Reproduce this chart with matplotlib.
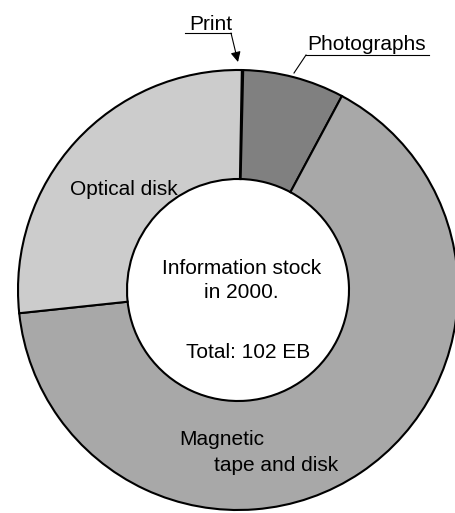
import matplotlib.pyplot as plt

# information stock in 2000, exabytes (total 102 EB)
categories = ["Print", "Photographs", "Magnetic tape and disk", "Optical disk"]
values = [0.1, 7.6, 66.8, 27.5]
colors = ["#606060", "#808080", "#a8a8a8", "#cccccc"]

plt.rcParams['font.family'] = ['Liberation Sans', 'DejaVu Sans']

fig = plt.figure(figsize=(4.56, 5.13), dpi=100)
ax = fig.add_axes([0, 0, 1, 1])

# axes in pixel units, y pointing down
cx, cy, r_out, r_in = 238, 290, 220, 111
ax.pie(values, colors=colors, startangle=-89, counterclock=True,
       center=(cx, cy), radius=r_out,
       wedgeprops=dict(width=r_out - r_in, edgecolor='black', linewidth=1.5))
ax.set_xlim(0, 456)
ax.set_ylim(513, 0)
ax.set_aspect('equal')
ax.axis('off')

fs = 15
# slice labels
ax.text(124, 195, "Optical disk", fontsize=fs, ha='center', va='baseline')
ax.text(179, 445, "Magnetic", fontsize=fs, ha='left', va='baseline')
ax.text(214, 471, "tape and disk", fontsize=fs, ha='left', va='baseline')

# centre text
ax.text(242, 274, "Information stock", fontsize=fs, ha='center', va='baseline')
ax.text(241, 298, "in 2000.", fontsize=fs, ha='center', va='baseline')
ax.text(248, 358, "Total: 102 EB", fontsize=fs, ha='center', va='baseline')

# callouts
ax.text(189, 30, "Print", fontsize=fs, ha='left', va='baseline')
ax.plot([185, 231], [33, 33], color='black', lw=0.8)
ax.annotate("", xy=(238, 62), xytext=(231, 33),
            arrowprops=dict(arrowstyle='-|>', color='black', lw=0.8,
                            shrinkA=0, shrinkB=0, mutation_scale=15))

ax.text(307, 50, "Photographs", fontsize=fs, ha='left', va='baseline')
ax.plot([306, 429], [55, 55], color='black', lw=0.8)
ax.plot([306, 294], [55, 73], color='black', lw=0.8)

fig.savefig("out.png", dpi=100)
